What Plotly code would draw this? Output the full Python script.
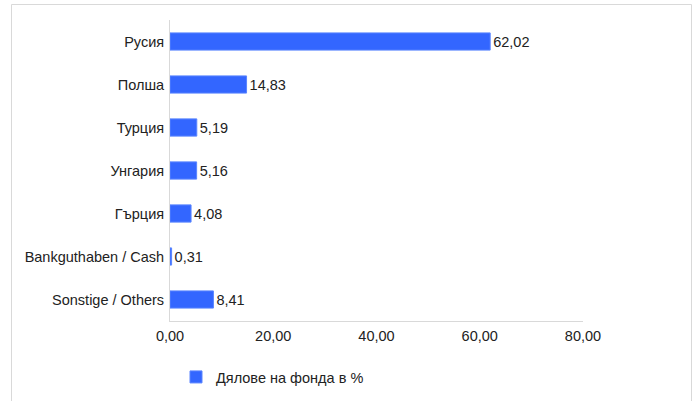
import plotly.graph_objects as go

categories = ["Русия", "Полша", "Турция", "Унгария", "Гърция", "Bankguthaben / Cash", "Sonstige / Others"]
values = [62.02, 14.83, 5.19, 5.16, 4.08, 0.31, 8.41]
series_name = "Дялове на фонда в %"
x_ticks = [0, 20, 40, 60, 80]

W, H = 694, 401
L, R, T, B = 170, 583, 20, 321
pw, ph = R - L, B - T

def px(x):
    return (x - L) / pw

def py(y):
    return (B - y) / ph

fig = go.Figure()
fig.add_trace(go.Bar(
    y=categories, x=values, orientation="h", name=series_name,
    marker=dict(color="#3366ff", line=dict(color="#5a85ff", width=1)),
    texttemplate="%{x:.2f}", textposition="outside", cliponaxis=False,
    textfont=dict(size=14.5, color="#222222", family="Liberation Sans, Arial, sans-serif"),
    showlegend=True,
))

fig.update_layout(
    width=W, height=H,
    margin=dict(l=L, r=W - R, t=T, b=H - B, autoexpand=False),
    paper_bgcolor="white", plot_bgcolor="white",
    separators=",.",
    bargap=0.6,
    font=dict(family="Liberation Sans, Arial, sans-serif", size=14.5, color="#222222"),
    xaxis=dict(range=[0, 80], tickvals=x_ticks, tickformat=".2f", showgrid=False,
               zeroline=False, showline=True, linecolor="#d9d9d9", linewidth=1,
               ticks="outside", ticklen=2, tickcolor="rgba(0,0,0,0)",
               tickfont=dict(size=14.5, color="#222222")),
    yaxis=dict(categoryorder="array", categoryarray=categories[::-1], showgrid=False,
               zeroline=False, showline=True, linecolor="#d9d9d9", linewidth=1,
               ticks="outside", ticklen=2, tickcolor="rgba(0,0,0,0)",
               tickfont=dict(size=14.5, color="#222222")),
    legend=dict(orientation="h", x=px(176), xanchor="left", y=py(377), yanchor="middle",
                font=dict(size=14.5, color="#222222"), bgcolor="rgba(0,0,0,0)"),
    shapes=[dict(type="rect", xref="paper", yref="paper",
                 x0=px(11.5), x1=px(691.5), y0=py(420), y1=py(4.5),
                 line=dict(color="#d9d9d9", width=1), fillcolor="rgba(0,0,0,0)", layer="above")],
)

fig.write_html("out.html", config={"displayModeBar": False},
               post_script="document.body.style.margin='0';document.body.style.overflow='hidden';")
